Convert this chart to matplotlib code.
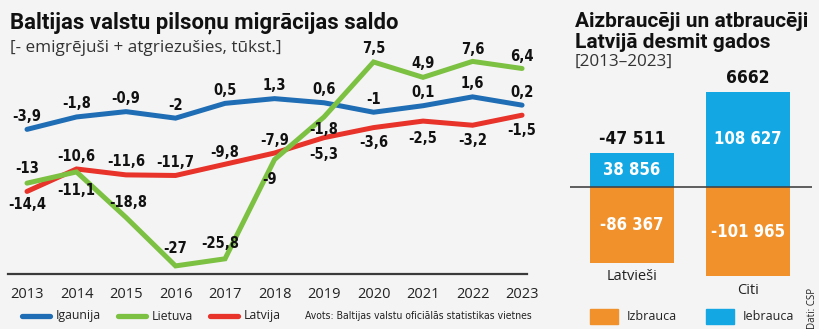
import matplotlib.pyplot as plt
from matplotlib.lines import Line2D
from matplotlib.patches import Rectangle
from matplotlib import font_manager

years = list(range(2013, 2024))
igaunija = [-3.9, -1.8, -0.9, -2, 0.5, 1.3, 0.6, -1, 0.1, 1.6, 0.2]
lietuva = [-13, -11.1, -18.8, -27, -25.8, -9, -1.8, 7.5, 4.9, 7.6, 6.4]
latvija = [-14.4, -10.6, -11.6, -11.7, -9.8, -7.9, -5.3, -3.6, -2.5, -3.2, -1.5]

groups = ['Latvieši', 'Citi']
iebrauca = [38856, 108627]
izbrauca = [-86367, -101965]
saldo = [-47511, 6662]

# label placement (pixel offsets from point)
off_ig = [(0, 13)] * 11
off_lt = [(0, 15), (0, -19), (2, 15), (0, 17), (-5, 15), (-5, -20), (0, -13),
          (0, 13), (0, 14), (0, 12), (0, 12)]
off_lv = [(0, -13), (0, 12), (0, 13), (0, 13), (0, 12), (0, 13), (0, -17),
          (0, -15), (0, -17), (0, -15), (0, -15)]

BLUE = '#1f6db4'
GREEN = '#7cc142'
RED = '#e8332a'
ORANGE = '#f0912b'
SKY = '#13a7e3'

W, H = 820, 329

# find a condensed face if there is one
NARROW, STRETCH = 'Roboto', 'normal'
for f in font_manager.fontManager.ttflist:
    if 'Narrow' in f.name or 'Condensed' in f.name:
        NARROW, STRETCH = f.name, 'normal'
        break
    if f.stretch in ('condensed', 'semi-condensed', 'extra-condensed'):
        NARROW, STRETCH = f.name, f.stretch
        break
NUM_SIZE = 10.5 if NARROW != 'Roboto' else 9.5
REG = 'Open Sans'
BOLD = 'Roboto'


def px(x, y):
    return x / W, 1 - y / H


def fmt(v):
    return str(v).replace('.', ',')


def thousands(v):
    s = str(abs(v))
    if abs(v) >= 10000:
        s = f'{abs(v):,}'.replace(',', ' ')
    return ('-' if v < 0 else '') + s


numfont = dict(fontfamily=NARROW, fontstretch=STRETCH, fontweight='bold')

fig = plt.figure(figsize=(8.2, 3.29), dpi=100, facecolor='#f4f4f4')

# ---- left line chart ----
l, b = px(8, 274)
ax = fig.add_axes([l, b, 519 / W, 234 / H])
ax.set_facecolor('none')
ax.set_xlim(2012.616, 2023.1)
ax.set_ylim(-28.37, 11.22)
for s in ['top', 'right', 'left']:
    ax.spines[s].set_visible(False)
ax.spines['bottom'].set_color('#3a3a3a')
ax.spines['bottom'].set_linewidth(1.6)
ax.set_yticks([])
ax.set_xticks(years)
ax.set_xticklabels([str(y) for y in years], fontfamily=REG, fontsize=10.5, color='#222')
ax.tick_params(axis='x', length=0, pad=9)

series = [(igaunija, BLUE, off_ig), (latvija, RED, off_lv), (lietuva, GREEN, off_lt)]
for vals, col, offs in series:
    ax.plot(years, vals, color=col, lw=3.6, solid_capstyle='round', solid_joinstyle='miter')
for vals, col, offs in series:
    for x, v, o in zip(years, vals, offs):
        ax.annotate(fmt(v), (x, v), xytext=o, textcoords='offset pixels',
                    ha='center', va='center', fontsize=NUM_SIZE, color='#111', **numfont)

fig.text(*px(10, 28), 'Baltijas valstu pilsoņu migrācijas saldo', fontfamily=BOLD,
         fontweight='bold', fontsize=15.9, color='#111')
fig.text(*px(10, 52), '[- emigrējuši + atgriezušies, tūkst.]', fontfamily=REG,
         fontsize=12.3, color='#333')

# legend
for x0, col, name in [(22, BLUE, 'Igaunija'), (118, GREEN, 'Lietuva'), (210, RED, 'Latvija')]:
    x1, y1 = px(x0, 316)
    x2, _ = px(x0 + 28, 316)
    fig.add_artist(Line2D([x1, x2], [y1, y1], color=col, lw=3.8, solid_capstyle='round'))
    fig.text(*px(x0 + 34, 316), name, fontfamily=REG, fontsize=8.8, color='#222', va='center')
fig.text(*px(305, 316), 'Avots: Baltijas valstu oficiālās statistikas vietnes', fontfamily=NARROW,
         fontstretch=STRETCH, fontsize=7 if NARROW == 'Roboto' else 7.5, color='#222', va='center')

# ---- right bar chart ----
l2, b2 = px(570, 300)
ax2 = fig.add_axes([l2, b2, 242 / W, 230 / H])
ax2.set_facecolor('none')
ax2.axis('off')
ax2.set_xlim(-0.534, 1.552)
ax2.set_ylim(-129100, 133700)
xs = [0, 1]
ax2.bar(xs, iebrauca, width=0.724, color=SKY)
ax2.bar(xs, izbrauca, width=0.724, color=ORANGE)
ax2.axhline(0, color='#444', lw=1.2, xmin=0, xmax=1)
for x, up, dn, net, g in zip(xs, iebrauca, izbrauca, saldo, groups):
    ax2.text(x, up / 2, thousands(up), ha='center', va='center', color='white',
             fontsize=NUM_SIZE + 1.5, **numfont)
    ax2.text(x, dn / 2, thousands(dn), ha='center', va='center', color='white',
             fontsize=NUM_SIZE + 1.5, **numfont)
    ax2.annotate(thousands(net), (x, up), xytext=(0, 14), textcoords='offset pixels',
                 ha='center', va='center', fontsize=NUM_SIZE + 2, color='#111', **numfont)
    ax2.annotate(g, (x, dn), xytext=(0, -14), textcoords='offset pixels',
                 ha='center', va='center', fontfamily=REG, fontsize=10.5, color='#222')

fig.text(*px(575, 27), 'Aizbraucēji un atbraucēji', fontfamily=BOLD,
         fontweight='bold', fontsize=15, color='#111')
fig.text(*px(575, 48), 'Latvijā desmit gados', fontfamily=BOLD,
         fontweight='bold', fontsize=15, color='#111')
fig.text(*px(575, 66), '[2013–2023]', fontfamily=REG, fontsize=12.3, color='#333')

for x0, col, name in [(590, ORANGE, 'Izbrauca'), (706, SKY, 'Iebrauca')]:
    fig.add_artist(Rectangle(px(x0, 324), 28 / W, 15 / H, color=col, transform=fig.transFigure))
    fig.text(*px(x0 + 37, 317), name, fontfamily=REG, fontsize=9, color='#222', va='center')
fig.text(*px(813, 308), 'Dati: CSP', rotation=90, fontfamily=REG, fontsize=7,
         color='#222', ha='center', va='center')

fig.savefig('out.png', dpi=100, facecolor=fig.get_facecolor())
